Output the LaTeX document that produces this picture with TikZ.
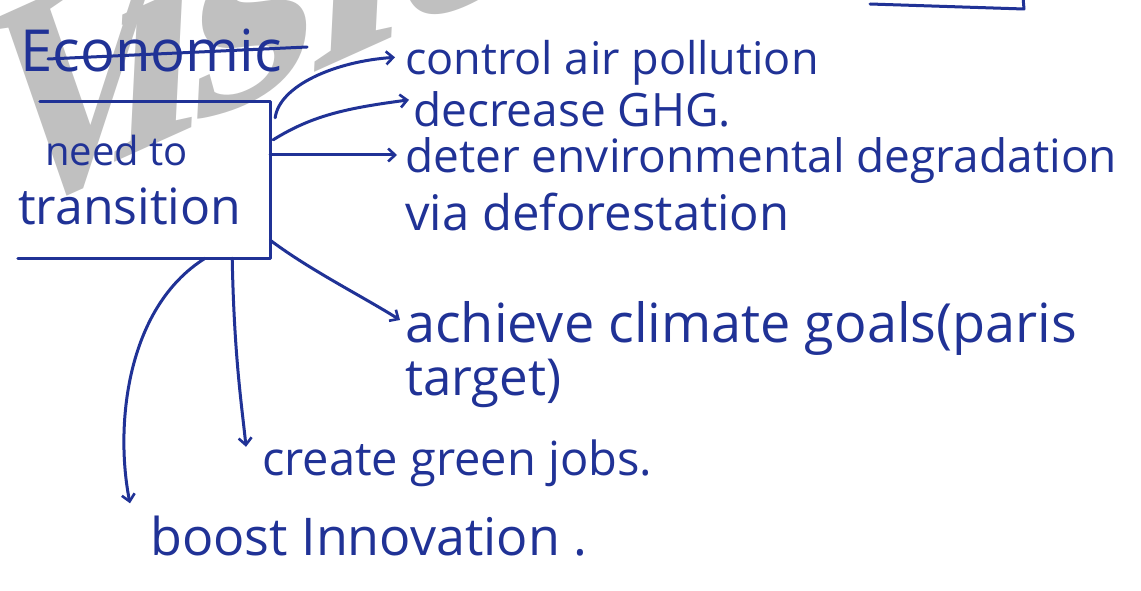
\documentclass[tikz,border=0pt]{standalone}
\usepackage{fontspec}
\setmainfont{Open Sans}
\newfontfamily\wmfont{Liberation Serif}
\usetikzlibrary{arrows.meta}
\definecolor{ink}{RGB}{32,50,150}
\definecolor{wm}{RGB}{192,192,192}
\newcommand{\myfs}[1]{\fontsize{#1}{#1}\selectfont}
\begin{document}
\begin{tikzpicture}[x=1pt,y=-1pt,
  hand/.style={text=ink, anchor=base west, inner sep=0pt},
  stroke/.style={draw=ink, line width=3pt, line cap=round, line join=round},
  conn/.style={stroke, -{Straight Barb[length=7pt,width=13pt,line width=2.6pt]}},
  wmletter/.style={transform shape, text=wm, inner sep=0pt, anchor=base,
        font=\wmfont\bfseries\myfs{320}},
  wmframe/.style={cm={1,0.45,0.05,1,(0,0)}},
]
\useasboundingbox[fill=white] (0,0) rectangle (1141,591);
% watermark
\begin{scope}[shift={(75,188)}, wmframe, xscale=0.8]
  \node[wmletter] (wm1) at (0,0) {V};
\end{scope}
\begin{scope}[shift={(152,145)}, wmframe]
  \node[wmletter] (wm2) at (0,0) {i};
\end{scope}
\begin{scope}[shift={(250,100)}, wmframe]
  \node[wmletter] (wm3) at (0,0) {s};
\end{scope}
\begin{scope}[shift={(352,55)}, wmframe]
  \node[wmletter] (wm4) at (0,0) {i};
\end{scope}
\begin{scope}[shift={(468,3)}, wmframe]
  \node[wmletter] (wm5) at (0,0) {o};
\end{scope}
% partial box at top
\draw[stroke] (870,4) -- (1024,9) -- (1023,-3);
% main box
\node[minimum width=252pt, minimum height=156pt, inner sep=0pt] (box) at (144,180) {};
\draw[stroke] ([xshift=22pt]box.north west) -- (box.north east) -- (box.south east) -- (box.south west);
\node[hand, font=\myfs{58}] (econ) at (20,72) {Economic};
\draw[stroke] ([shift={(28pt,13pt)}]econ.base west) -- ([shift={(25pt,25pt)}]econ.base east);
\node[hand, font=\myfs{40}] (need) at (45,165) {need to};
\node[hand, font=\myfs{50}] (trans) at (18,224) {transition};
% right texts
\node[hand, font=\myfs{45}] (c1) at (405,75) {control air pollution};
\node[hand, font=\myfs{46}] (c2) at (413,127) {decrease GHG.};
\node[hand, font=\myfs{46}] (c3) at (405,172) {deter environmental degradation};
\node[hand, font=\myfs{49}] (c4) at (405,230) {via deforestation};
\node[hand, font=\myfs{54}] (c5) at (405,342) {achieve climate goals(paris};
\node[hand, font=\myfs{51}] (c6) at (405,395) {target)};
\node[hand, font=\myfs{47}] (c7) at (262,475) {create green jobs.};
\node[hand, font=\myfs{52}] (c8) at (150,555) {boost Innovation .};
% connectors
\draw[conn] ([shift={(5pt,-16pt)}]box.north east) .. controls +(4,-32) and +(-60,4) .. ([shift={(-10pt,6pt)}]c1.west);
\draw[conn] ([shift={(3pt,-38pt)}]box.north east) .. controls +(40,-25) and +(-60,8) .. ([shift={(-4pt,10pt)}]c2.west);
\draw[conn] ([yshift=25pt]box.east) coordinate (a3) -- ([xshift=-8pt]a3 -| c3.west);
\draw[conn] ([yshift=18pt]box.south east) .. controls +(40,30) and +(-40,-25) .. ([shift={(-5pt,8pt)}]c5.west);
\draw[conn] ([xshift=-38pt]box.south east) .. controls +(2,100) and +(-4,-40) .. ([shift={(-16pt,16pt)}]c7.west);
\draw[conn] ([xshift=-65pt]box.south east) .. controls +(-80,50) and +(-15,-75) .. ([shift={(-20pt,12pt)}]c8.north west);
\end{tikzpicture}
\end{document}
